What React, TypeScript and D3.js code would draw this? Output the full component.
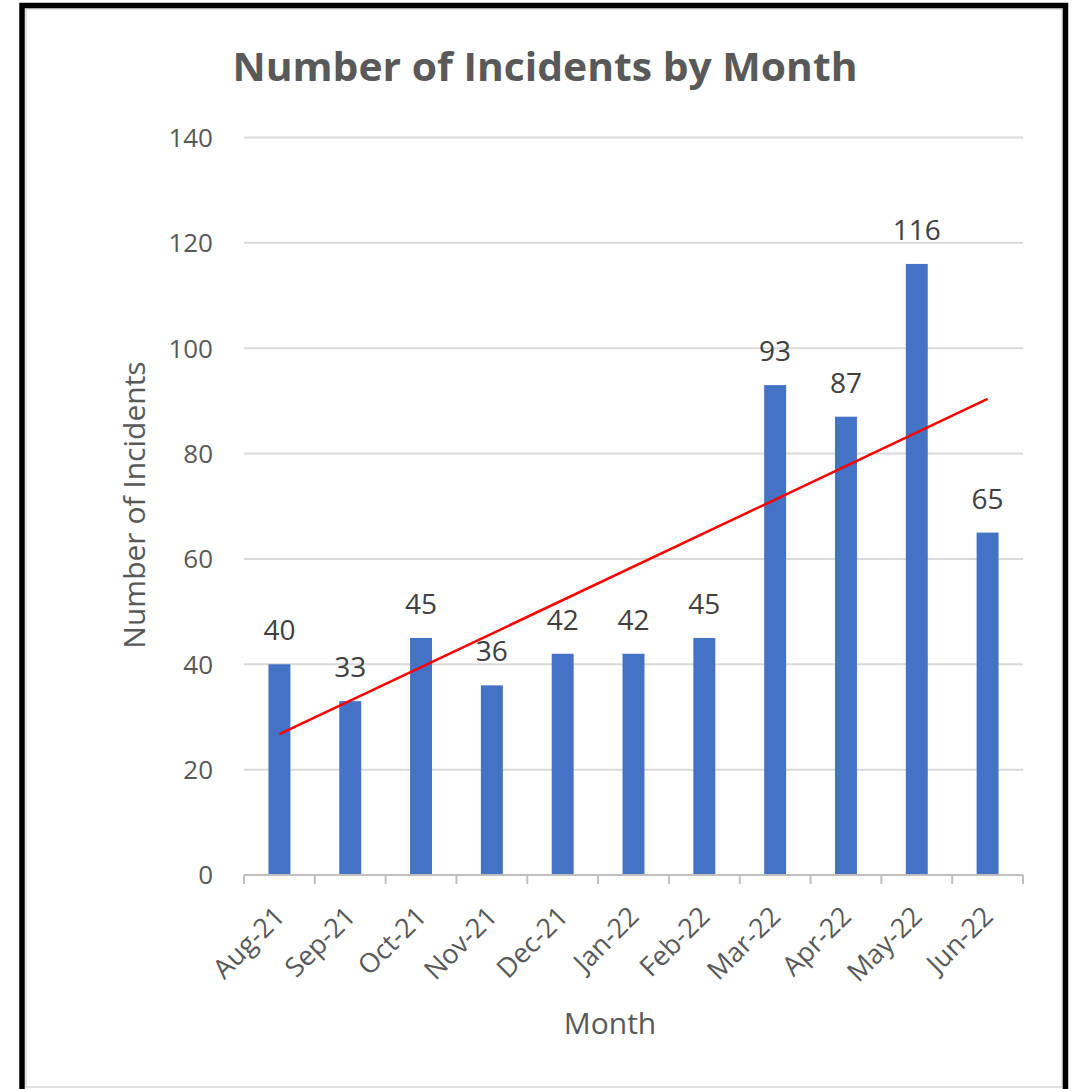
import React from "react";
import * as d3 from "d3";

// Monthly incident counts
const months = ["Aug-21", "Sep-21", "Oct-21", "Nov-21", "Dec-21", "Jan-22", "Feb-22", "Mar-22", "Apr-22", "May-22", "Jun-22"];
const incidents = [40, 33, 45, 36, 42, 42, 45, 93, 87, 116, 65];
const yTicks = [0, 20, 40, 60, 80, 100, 120, 140];

const W = 1076;
const H = 1089;
const FONT = "'Open Sans', 'Noto Sans', sans-serif";
const TEXT = "#595959";

export default function App() {
  const x = d3.scaleBand<string>().domain(months).range([244, 1023]).padding(0);
  const y = d3.scaleLinear().domain([0, 140]).range([875, 137.5]);
  const bw = x.bandwidth() * 0.31;
  const cx = (m: string) => (x(m) as number) + x.bandwidth() / 2;

  // least-squares linear trend over month index
  const idx = incidents.map((_, i) => i + 1);
  const mx = d3.mean(idx) as number;
  const my = d3.mean(incidents) as number;
  const sxy = d3.sum(idx, (v, i) => (v - mx) * (incidents[i] - my));
  const sxx = d3.sum(idx, (v) => (v - mx) * (v - mx));
  const slope = sxy / sxx;
  const icpt = my - slope * mx;
  const trend = months.map((m, i) => [cx(m), y(icpt + slope * (i + 1))] as [number, number]);
  const lineGen = d3.line();
  const trendPts = [trend[0], trend[trend.length - 1]];

  const bounds = months.map((m) => x(m) as number).concat([x.range()[1]]);

  return (
    <div style={{ position: "absolute", left: 0, top: 0, width: W, height: H, background: "#fff" }}>
      <svg width={W} height={H} style={{ display: "block" }}>
        <rect x={0} y={0} width={W} height={H} fill="#fff" />
        {/* chart frame */}
        <rect x={26} y={9} width={1036} height={1078} fill="none" stroke="#d9d9d9" strokeWidth={1.5} />
        <rect x={22} y={5.5} width={1043.5} height={1200} fill="none" stroke="#000" strokeWidth={5.5} />

        {/* title */}
        <text x={545} y={81} textAnchor="middle" fontFamily={FONT} fontWeight={700} fontSize={40}
          fill={TEXT} textLength={625} lengthAdjust="spacingAndGlyphs">
          Number of Incidents by Month
        </text>

        {/* gridlines */}
        {yTicks.filter((t) => t > 0).map((t) => (
          <line key={t} x1={244} x2={1023} y1={y(t)} y2={y(t)} stroke="#d9d9d9" strokeWidth={2} />
        ))}

        {/* y tick labels */}
        {yTicks.map((t) => (
          <text key={t} x={213} y={y(t)} dy="0.36em" textAnchor="end" fontFamily={FONT} fontSize={26} fill={TEXT}>
            {t}
          </text>
        ))}

        {/* bars */}
        {months.map((m, i) => (
          <rect key={m} x={cx(m) - bw / 2} y={y(incidents[i])} width={bw} height={y(0) - y(incidents[i])} fill="#4472c4" />
        ))}

        {/* x axis */}
        <line x1={244} x2={1023} y1={y(0)} y2={y(0)} stroke="#bfbfbf" strokeWidth={2} />
        {bounds.map((b, i) => (
          <line key={i} x1={b} x2={b} y1={y(0)} y2={y(0) + 9} stroke="#bfbfbf" strokeWidth={2} />
        ))}

        {/* trendline */}
        <path d={lineGen(trendPts) as string} fill="none" stroke="#ff0000" strokeWidth={2.5} />

        {/* data labels */}
        {months.map((m, i) => (
          <text key={m} x={cx(m)} y={y(incidents[i]) - 24} textAnchor="middle" fontFamily={FONT} fontSize={28} fill="#404040">
            {incidents[i]}
          </text>
        ))}

        {/* x tick labels */}
        {months.map((m) => (
          <text key={m} transform={`translate(${cx(m) + 7},${918}) rotate(-45)`} textAnchor="end"
            fontFamily={FONT} fontSize={27} fill={TEXT}>
            {m}
          </text>
        ))}

        {/* axis titles */}
        <text x={610} y={1034} textAnchor="middle" fontFamily={FONT} fontSize={30} fill={TEXT}>
          Month
        </text>
        <text transform={`translate(145,505) rotate(-90)`} textAnchor="middle" fontFamily={FONT} fontSize={30} fill={TEXT}>
          Number of Incidents
        </text>
      </svg>
    </div>
  );
}
